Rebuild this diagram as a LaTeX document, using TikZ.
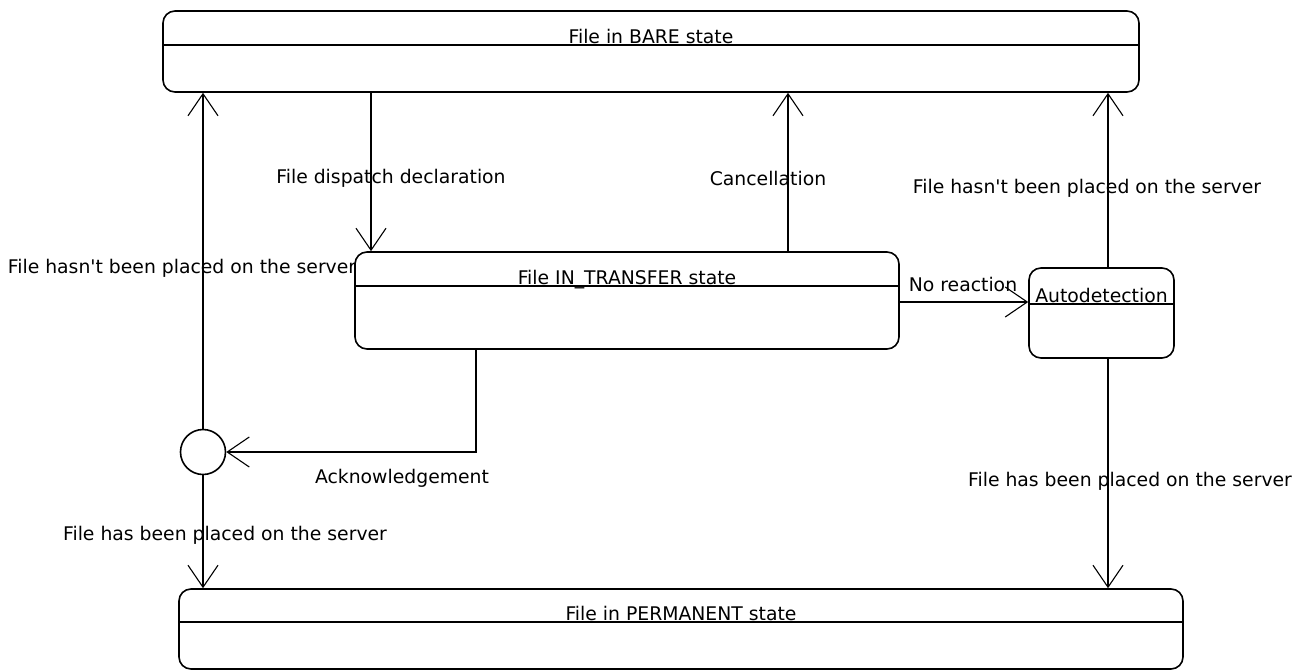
\documentclass[tikz,border=0pt]{standalone}
\usepackage{fontspec}
\setmainfont{DejaVu Sans}
\usetikzlibrary{arrows.meta}
\begin{document}
\begin{tikzpicture}[x=1pt,y=-1pt,
  every node/.style={font=\fontsize{18.8}{22}\selectfont},
  statebox/.style={draw, line width=1.6pt, rounded corners=12pt, inner sep=0pt},
  junction/.style={draw, line width=1.6pt, circle, minimum size=45pt, inner sep=0pt},
  divider/.style={line width=1.6pt},
  title/.style={anchor=base, inner sep=0pt},
  lbl/.style={anchor=base, inner sep=0pt},
  flow/.style={line width=1.6pt, -{Straight Barb[length=22pt, width=30pt, line width=1.1pt]}}
]
\useasboundingbox (0,0) rectangle (1304,672);

% states
\node[statebox, minimum width=976pt, minimum height=81pt] (bare) at (651,51.5) {};
\node[statebox, minimum width=544pt, minimum height=97pt] (intr) at (627,300.5) {};
\node[statebox, minimum width=145pt, minimum height=90pt] (auto) at (1101.5,313) {};
\node[statebox, minimum width=1004pt, minimum height=80pt] (perm) at (681,629) {};
\node[junction] (junc) at (203,452) {};

% name compartments
\draw[divider] ([yshift=-35pt]bare.north west) -- ([yshift=-35pt]bare.north east);
\draw[divider] ([yshift=-35pt]intr.north west) -- ([yshift=-35pt]intr.north east);
\draw[divider] ([yshift=-37pt]auto.north west) -- ([yshift=-37pt]auto.north east);
\draw[divider] ([yshift=-34pt]perm.north west) -- ([yshift=-34pt]perm.north east);

\node[title] (bareT) at ([yshift=-33pt]bare.north) {File in BARE state};
\node[title] (intrT) at ([yshift=-33pt]intr.north) {File IN\_TRANSFER state};
\node[title] (autoT) at ([yshift=-35pt]auto.north) {Autodetection};
\node[title] (permT) at ([yshift=-32pt]perm.north) {File in PERMANENT state};

% connector columns and rows
\coordinate (xdisp) at (371,0);
\coordinate (xcanc) at (788,0);
\coordinate (xauto) at (1108,0);
\coordinate (xack) at (476,0);
\coordinate (ynr) at (0,302);

% transitions
\draw[flow] (bare.south -| xdisp) -- (intr.north -| xdisp);
\draw[flow] (intr.north -| xcanc) -- (bare.south -| xcanc);
\draw[flow] (auto.north -| xauto) -- (bare.south -| xauto);
\draw[flow] (intr.east |- ynr) -- (auto.west |- ynr);
\draw[flow] (intr.south -| xack) |- (junc.east);
\draw[flow] (junc.north) -- (bare.south -| junc.north);
\draw[flow] (junc.south) -- (perm.north -| junc.south);
\draw[flow] (auto.south -| xauto) -- (perm.north -| xauto);

% transition labels
\node[lbl] (lDisp) at (391,183) {File dispatch declaration};
\node[lbl] (lCanc) at (768,185) {Cancellation};
\node[lbl] (lAutoUp) at (1087,193) {File hasn\textquotesingle t been placed on the server};
\node[lbl] (lNoRe) at (963,291) {No reaction};
\node[lbl] (lAck) at (402,483) {Acknowledgement};
\node[lbl] (lJuncUp) at (182,273) {File hasn\textquotesingle t been placed on the server};
\node[lbl] (lJuncDn) at (225,540) {File has been placed on the server};
\node[lbl] (lAutoDn) at (1130,486) {File has been placed on the server};
\end{tikzpicture}
\end{document}
